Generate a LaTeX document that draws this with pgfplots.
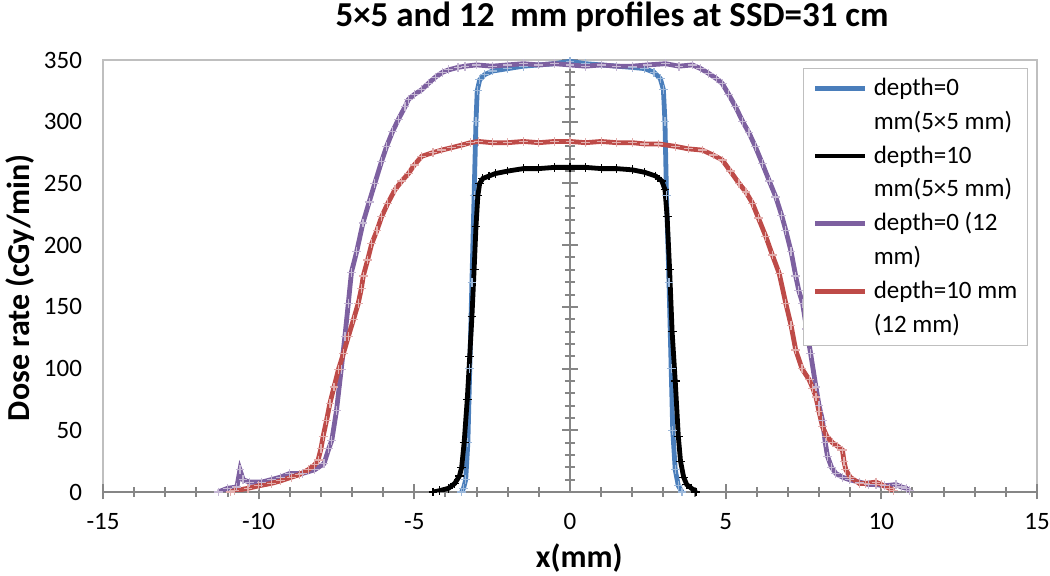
\documentclass[border=0pt]{standalone}
\usepackage{fontspec}
\setmainfont{Carlito}
\usepackage{pgfplots}
\pgfplotsset{compat=1.18}

\definecolor{cblue}{HTML}{4A7EBB}
\definecolor{cpurple}{HTML}{7D60A0}
\definecolor{cred}{HTML}{BE4B48}
\definecolor{caxis}{HTML}{868686}
\definecolor{cframe}{HTML}{BFBFBF}

\begin{document}
\begin{tikzpicture}
\useasboundingbox (-51.5pt,-42pt) rectangle (473.5pt,246pt);

% frame, tick labels, axis titles
\begin{axis}[
    width=467pt, height=216pt, scale only axis,
    xmin=-15, xmax=15, ymin=0, ymax=350,
    xtick={-15,-10,...,15}, ytick={0,50,...,350},
    major tick length=0pt, minor tick num=0,
    axis line style={cframe, line width=0.6pt},
    /pgf/number format/assume math mode=true,
    tick label style={font=\fontsize{12.5}{15}\selectfont},
    xticklabel style={anchor=base, yshift=-19pt},
    yticklabel style={anchor=east, xshift=-7pt},
    title={5×5 and 12\ \ mm profiles at SSD=31 cm},
    title style={font=\fontsize{17.5}{20}\selectfont\bfseries, at={(axis description cs:0.545,1.05)}, anchor=base},
    xlabel={x(mm)},
    xlabel style={font=\fontsize{16}{19}\selectfont\bfseries, at={(axis description cs:0.51,-0.174)}, anchor=base},
    ylabel={Dose rate (cGy/min)},
    ylabel style={font=\fontsize{16}{19}\selectfont\bfseries, at={(axis description cs:-0.0792,0.473)}, anchor=base},
]
\end{axis}

% axes through the origin and the four profiles
\begin{axis}[
    width=467pt, height=216pt, scale only axis,
    xmin=-15, xmax=15, ymin=0, ymax=350,
    axis lines=middle, axis line style={-, caxis, line width=1.1pt},
    xtick={-15,-10,...,15}, ytick={0,50,...,350},
    minor x tick num=4, minor y tick num=4,
    xticklabels={}, yticklabels={},
    tick align=center, major tick length=7.5pt, minor tick length=5pt,
    every tick/.style={caxis, line width=1pt},
    legend cell align=left,
    legend image code/.code={\draw[#1, line width=2.4pt] (0pt,0pt) -- (25pt,0pt);},
    legend style={at={(0.990,0.981)}, anchor=north east, draw=cframe, fill=white,
        font=\fontsize{12.5}{15}\selectfont, inner xsep=5pt, inner ysep=1.5pt,
        row sep=0pt, column sep=3pt,
        nodes={inner sep=0pt, text height=12pt, text depth=4.9pt}},
    every axis plot/.append style={line width=2.4pt, mark=+, mark size=2.2pt},
]
\addplot[cblue, mark options={cblue!55!white, line width=0.6pt}] coordinates {
(-3.48,0) (-3.42,3) (-3.35,10) (-3.28,40) (-3.22,100) (-3.15,170) (-3.08,240)
(-3.02,300) (-2.98,325) (-2.9,334) (-2.75,338) (-2.5,341) (-2.0,343) (-1.5,345)
(-1.0,346) (-0.5,347) (0,349) (0.5,347) (1.0,346) (1.5,345) (2.0,344) (2.4,343)
(2.7,340) (2.9,335) (3.0,326) (3.05,300) (3.1,240) (3.18,170) (3.25,100)
(3.3,50) (3.38,18) (3.48,5) (3.6,0)
};
\addlegendentry{depth=0}
\addlegendimage{empty legend}
\addlegendentry{mm(5×5 mm)}
\addplot[black, mark options={black, line width=0.6pt}] coordinates {
(-4.4,0) (-4.2,1) (-3.9,3) (-3.7,7) (-3.55,13) (-3.48,20) (-3.4,40) (-3.3,75)
(-3.22,110) (-3.15,142) (-3.08,180) (-3.02,215) (-2.96,240) (-2.9,250) (-2.8,254)
(-2.6,256) (-2.4,258) (-2.0,260) (-1.5,262) (-1.0,262) (-0.5,263) (0,263)
(0.5,263) (1.0,262) (1.5,262) (2.0,261) (2.4,259) (2.75,256) (2.95,252)
(3.05,245) (3.12,223) (3.2,180) (3.28,130) (3.38,90) (3.48,45) (3.55,25)
(3.65,12) (3.75,6) (3.9,3) (4.05,0)
};
\addlegendentry{depth=10}
\addlegendimage{empty legend}
\addlegendentry{mm(5×5 mm)}
\addplot[cpurple, mark options={cpurple!45!white, line width=0.6pt}] coordinates {
(-11.3,0) (-11.0,3) (-10.7,4) (-10.6,18) (-10.5,10) (-10.3,8) (-9.9,8) (-9.6,10)
(-9.3,12) (-9.0,15) (-8.6,15) (-8.2,18) (-7.9,23) (-7.75,35) (-7.65,42)
(-7.5,66) (-7.35,99) (-7.23,126) (-7.12,153) (-7.02,178) (-6.85,195)
(-6.65,218) (-6.45,235) (-6.27,250) (-6.05,268) (-5.89,280) (-5.7,292)
(-5.51,302) (-5.3,312) (-5.19,318) (-5.0,322) (-4.76,326) (-4.55,331)
(-4.33,336) (-4.1,340) (-3.9,342) (-3.6,344) (-3.37,345) (-3.0,346) (-2.5,345)
(-2.0,346) (-1.5,347) (-1.0,346) (-0.5,347) (0,346) (0.5,345) (1.0,346)
(1.5,345) (2.0,345) (2.5,346) (3.07,347) (3.5,345) (3.93,346) (4.2,343)
(4.46,339) (4.7,335) (4.89,331) (5.1,322) (5.32,312) (5.55,300) (5.75,291)
(5.95,280) (6.18,266) (6.4,252) (6.61,239) (6.8,224) (6.93,212) (7.1,195)
(7.25,175) (7.35,163) (7.47,153) (7.6,132) (7.73,112) (7.9,85) (8.0,70)
(8.11,58) (8.2,40) (8.27,29) (8.4,20) (8.54,15) (8.75,12) (8.97,10) (9.3,8)
(9.6,6) (9.83,6) (10.1,5) (10.47,6) (10.65,4) (10.8,3) (10.9,1)
};
\addlegendentry{depth=0 (12}
\addlegendimage{empty legend}
\addlegendentry{mm)}
\addplot[cred, mark options={cred!45!white, line width=0.6pt}] coordinates {
(-10.9,0) (-10.77,1) (-10.34,3) (-10.0,5) (-9.59,7) (-9.3,9) (-8.95,12)
(-8.7,14) (-8.41,18) (-8.2,22) (-8.09,26) (-8.0,35) (-7.93,45) (-7.82,58)
(-7.71,72) (-7.58,85) (-7.44,99) (-7.28,112) (-7.12,126) (-6.95,140)
(-6.80,153) (-6.7,165) (-6.64,175) (-6.5,188) (-6.37,201) (-6.2,212)
(-6.05,223) (-5.85,234) (-5.62,245) (-5.4,252) (-5.19,258) (-5.0,265)
(-4.76,272) (-4.4,275) (-4.12,277) (-3.8,279) (-3.48,281) (-3.2,283)
(-2.94,284) (-2.5,283) (-2.0,283) (-1.5,284) (-1.0,283) (-0.5,284) (0,284)
(0.5,283) (1.0,284) (1.5,283) (2.0,283) (2.4,282) (2.85,282) (3.39,280)
(3.8,278) (4.25,277) (4.6,273) (4.89,269) (5.15,260) (5.43,250) (5.65,243)
(5.86,234) (6.05,222) (6.29,207) (6.5,192) (6.72,177) (6.93,153) (7.1,135)
(7.25,115) (7.45,100) (7.68,91) (7.8,84) (7.90,77) (8.0,65) (8.11,53)
(8.25,45) (8.43,40) (8.6,37) (8.75,34) (8.8,25) (8.86,18) (9.0,12) (9.29,7)
(9.5,7) (9.83,8) (10.0,6) (10.26,3) (10.4,1)
};
\addlegendentry{depth=10 mm}
\addlegendimage{empty legend}
\addlegendentry{(12 mm)}
\end{axis}
\end{tikzpicture}
\end{document}
